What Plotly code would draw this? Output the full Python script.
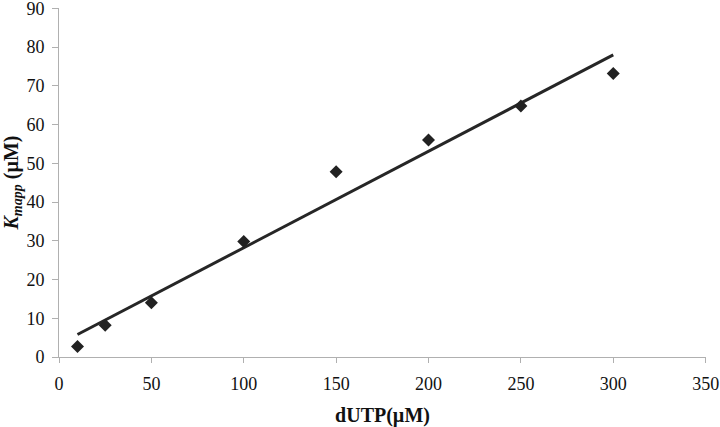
import plotly.graph_objects as go

# measured points
dutp = [10, 25, 50, 100, 150, 200, 250, 300]
kmapp = [2.7, 8.2, 14.0, 29.8, 47.8, 56.0, 64.8, 73.2]

# linear trendline as drawn (end points)
fit_x = [10, 300]
fit_y = [5.8, 78.0]

x_ticks = [0, 50, 100, 150, 200, 250, 300, 350]
y_ticks = [0, 10, 20, 30, 40, 50, 60, 70, 80, 90]

fig = go.Figure()

fig.add_trace(go.Scatter(x=fit_x, y=fit_y, mode='lines',
                         line=dict(color='#262626', width=3)))

fig.add_trace(go.Scatter(x=dutp, y=kmapp, mode='markers',
                         marker=dict(symbol='diamond', size=10, color='#222222')))

axis_font = dict(family='Liberation Serif', size=18, color='#111')
title_font = dict(family='Liberation Serif', size=20, color='#111')

fig.update_layout(
    width=720, height=427,
    margin=dict(l=59, r=14, t=8, b=70),
    plot_bgcolor='white', paper_bgcolor='white',
    showlegend=False,
    xaxis=dict(range=[0, 350.2], tickvals=x_ticks, showgrid=False, zeroline=False,
               showline=True, linecolor='#b0b0b0', linewidth=1,
               ticks='outside', ticklen=5, tickcolor='#b0b0b0',
               tickfont=axis_font, ticklabelstandoff=5, automargin=False,
               ticklabeloverflow='allow',
               title=dict(text='<b>dUTP(µM)</b>', standoff=16, font=title_font)),
    yaxis=dict(range=[0, 90.1], tickvals=y_ticks, showgrid=False, zeroline=False,
               showline=True, linecolor='#b0b0b0', linewidth=1,
               ticks='outside', ticklen=6, tickcolor='#b0b0b0',
               tickfont=axis_font, ticklabelstandoff=4, automargin=False,
               ticklabeloverflow='allow',
               title=dict(text='<b><i>K</i></b><sub><b><i>mapp</i></b></sub><b> (µM)</b>',
                          standoff=2, font=title_font)),
)

# drop the browser's default page margin so the figure sits at 0,0
fig.write_html("out.html", config={'displayModeBar': False},
               post_script="document.body.style.margin='0';")
